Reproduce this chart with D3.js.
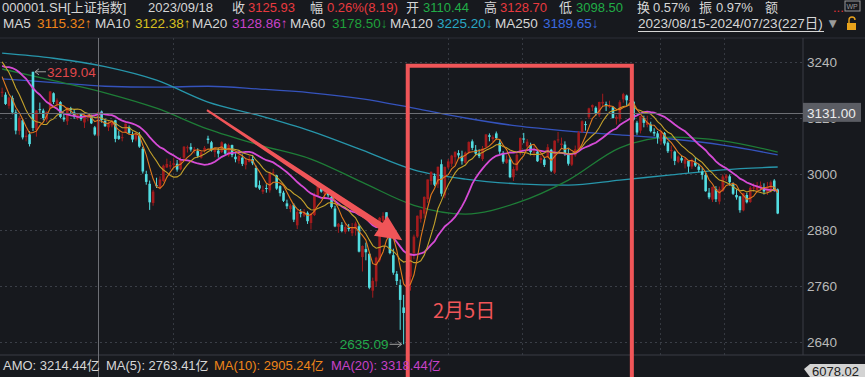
<!DOCTYPE html>
<html>
<head>
<meta charset="utf-8">
<script src="https://cdn.jsdelivr.net/npm/d3@7"></script>
<style>
  body { margin: 0; background: #17191e; }
  svg { display: block; font-family: "Liberation Sans", Arial, "Noto Sans CJK SC", sans-serif; }
</style>
</head>
<body>
<svg id="chart"></svg>
<script>
// 上证指数 daily candles, 2023/08/15 - 2024/07/23 (227 trading days)
var closes = [
  // 2023 Aug
  3176.18, 3150.13, 3163.74, 3131.95, 3092.98, 3120.33, 3078.40, 3082.24, 3064.07, 3098.64, 3135.89, 3137.14, 3119.88,
  // Sep
  3133.25, 3177.06, 3154.37, 3158.08, 3122.35, 3116.72, 3142.76, 3137.06, 3122.85, 3126.55, 3117.74, 3125.93, 3124.25, 3108.57, 3084.70, 3132.43, 3115.61, 3102.27, 3107.32, 3110.48,
  // Oct
  3075.24, 3075.18, 3078.96, 3107.90, 3088.10, 3073.81, 3083.50, 3058.71, 3005.39, 2983.06, 2939.29, 2962.24, 2974.11, 2988.30, 3017.78, 3021.55, 3018.77,
  // Nov
  3023.08, 3009.41, 3030.80, 3058.41, 3057.27, 3052.37, 3053.28, 3038.97, 3046.53, 3056.04, 3072.83, 3050.93, 3054.37, 3043.61, 3067.93, 3043.61, 3061.86, 3040.97, 3031.70, 3038.55, 3021.69, 3029.67,
  // Dec
  3031.64, 3022.91, 2972.30, 2968.93, 2966.21, 2969.56, 3003.25, 3003.39, 2968.76, 2958.99, 2942.56, 2930.80, 2932.39, 2902.11, 2918.72, 2914.78, 2918.81, 2898.87, 2914.61, 2954.70, 2974.93,
  // 2024 Jan
  2962.28, 2967.25, 2954.35, 2929.18, 2887.54, 2893.25, 2877.70, 2886.65, 2881.98, 2886.29, 2893.99, 2833.62, 2845.78, 2832.28, 2756.34, 2770.98, 2820.77, 2906.11, 2910.22, 2883.36, 2830.53, 2788.55,
  // Feb
  2770.74, 2730.15, 2702.19, 2789.49, 2829.70, 2865.90, 2910.54, 2922.73, 2950.96, 2988.36, 3004.88, 2977.02, 3015.48, 2957.85, 3015.17,
  // Mar
  3027.02, 3039.31, 3047.79, 3039.93, 3027.40, 3046.02, 3068.46, 3055.94, 3043.83, 3038.23, 3054.64, 3084.93, 3079.69, 3079.11, 3077.11, 3048.03, 3026.31, 3031.48, 2993.14, 3010.66, 3041.17,
  // Apr
  3077.38, 3074.96, 3069.30, 3047.05, 3048.54, 3027.34, 3034.25, 3019.47, 3057.38, 3007.07, 3071.38, 3074.22, 3065.26, 3044.60, 3021.98, 3044.82, 3052.90, 3088.64, 3113.04, 3104.82,
  // May
  3140.72, 3147.74, 3128.48, 3154.32, 3154.55, 3148.02, 3145.77, 3119.90, 3122.40, 3154.03, 3171.15, 3157.97, 3158.54, 3116.39, 3088.87, 3124.04, 3109.57, 3111.02, 3091.68, 3086.81,
  // Jun
  3078.49, 3091.20, 3065.40, 3048.79, 3051.28, 3028.05, 3037.47, 3028.92, 3032.63, 3015.89, 3030.25, 3018.05, 3008.86, 2998.14, 2963.10, 2950.00, 2972.53, 2945.85, 2967.40,
  // Jul
  2994.73, 2997.01, 2982.38, 2957.57, 2949.93, 2922.45, 2959.37, 2939.36, 2970.39, 2971.30, 2974.01, 2976.30, 2962.77, 2973.55, 2982.31, 2964.22, 2915.37
];

var opens = [
  3174, 3170, 3146, 3163, 3132, 3092, 3115, 3079, 3085, 3219.04, 3094, 3139, 3136,
  3117, 3140, 3173, 3150, 3154, 3121, 3113, 3141, 3132, 3119, 3128, 3110.44, 3122, 3125, 3100, 3082, 3134, 3114, 3100, 3104,
  3115, 3082, 3077, 3089, 3100, 3085, 3074, 3082, 3054, 3000, 2979, 2938, 2976, 2970, 2985, 3014, 3016,
  3019, 3022, 3010, 3035, 3056, 3058, 3050, 3049, 3035, 3050, 3076, 3068, 3047, 3050, 3047, 3064, 3040, 3062, 3037, 3028, 3035, 3019,
  3026, 3032, 3013, 2976, 2962, 2970, 2965, 3002, 2997, 2974, 2960, 2937, 2925, 2934, 2890, 2919, 2911, 2917, 2895, 2912, 2954,
  2972, 2957, 2965, 2951, 2926, 2887, 2891, 2876, 2885, 2873, 2882, 2888, 2822, 2839, 2829, 2750, 2770, 2815, 2899, 2918, 2875, 2826,
  2786, 2762, 2714, 2685, 2780, 2830, 2866, 2904, 2915, 2946, 2985, 2996, 2978, 3021, 2954,
  3014, 3022, 3036, 3045, 3039, 3024, 3046, 3070, 3052, 3044, 3032, 3058, 3083, 3075, 3087, 3067, 3045, 3024, 3031, 2993, 3008,
  3044, 3076, 3059, 3062, 3045, 3048, 3030, 3031, 3036, 3052, 3003, 3072, 3062, 3063, 3045, 3020, 3040, 3053, 3090, 3107,
  3122, 3143, 3142, 3126, 3151, 3150, 3145, 3143, 3118, 3118, 3160, 3168, 3157, 3155, 3110, 3093, 3120, 3105, 3106, 3090,
  3087, 3070, 3088, 3067, 3049, 3048, 3026, 3034, 3022, 3028, 3016, 3025, 3016, 3005, 2998, 2960, 2945, 2968, 2941,
  2963, 2991, 2995, 2978, 2955, 2952, 2922, 2955, 2940, 2969, 2966, 2972, 2972, 2961, 2968, 2986, 2967
];

var highs = [
  3185, 3175, 3166, 3168, 3138, 3125, 3118, 3095, 3092, 3219.04, 3137, 3153, 3140,
  3134, 3177, 3175, 3162, 3156, 3131, 3143, 3144, 3137, 3129, 3131, 3128.70, 3130, 3127, 3103, 3133, 3136, 3119, 3113, 3115,
  3116, 3092, 3087, 3108, 3104, 3091, 3090, 3090, 3058, 3007, 2986, 2966, 2992, 2995, 3020, 3033, 3028,
  3035, 3030, 3036, 3060, 3061, 3066, 3058, 3055, 3050, 3060, 3082, 3071, 3055, 3056, 3070, 3066, 3065, 3063, 3044, 3041, 3042, 3035,
  3040, 3041, 3018, 2986, 2975, 2978, 3005, 3011, 2998, 2976, 2964, 2945, 2936, 2937, 2925, 2925, 2925, 2920, 2917, 2960, 2976,
  2976, 2969, 2967, 2957, 2932, 2895, 2897, 2896, 2893, 2895, 2898, 2892, 2847, 2853, 2830, 2778, 2823, 2908, 2918, 2918, 2880, 2840,
  2792, 2774, 2741, 2793, 2830, 2870, 2911, 2924, 2952, 2988, 3005, 3001, 3016, 3031, 3016,
  3032, 3041, 3048, 3051, 3050, 3048, 3070, 3074, 3062, 3053, 3060, 3085, 3087, 3083, 3091, 3075, 3049, 3040, 3036, 3016, 3046,
  3078, 3088, 3075, 3067, 3060, 3051, 3040, 3036, 3064, 3054, 3072, 3090, 3078, 3070, 3054, 3045, 3061, 3092, 3115, 3113,
  3142, 3149, 3145, 3155, 3172, 3155, 3157, 3145, 3126, 3158, 3174, 3170, 3164, 3157, 3114, 3125, 3125, 3125, 3112, 3098,
  3092, 3093, 3090, 3070, 3061, 3050, 3040, 3039, 3036, 3030, 3033, 3036, 3022, 3013, 3002, 2970, 2973, 2974, 2973,
  2999, 3000, 2999, 2982, 2967, 2953, 2960, 2960, 2974, 2980, 2983, 2984, 2980, 2983, 2986, 2989, 2969
];

var lows = [
  3165, 3148, 3140, 3128, 3085, 3084, 3074, 3070, 3059, 3092, 3080, 3131, 3115,
  3111, 3140, 3150, 3140, 3120, 3112, 3105, 3130, 3118, 3116, 3114, 3098.50, 3113, 3107, 3082, 3078, 3110, 3101, 3092, 3100,
  3068, 3073, 3070, 3088, 3085, 3068, 3070, 3056, 3001, 2977, 2923, 2932, 2970, 2967, 2983, 3013, 3010,
  3015, 3005, 3008, 3031, 3046, 3048, 3044, 3035, 3033, 3046, 3065, 3048, 3036, 3035, 3045, 3041, 3037, 3036, 3025, 3022, 3017, 3010,
  3025, 3019, 2970, 2966, 2957, 2960, 2960, 2996, 2966, 2952, 2940, 2925, 2918, 2897, 2882, 2907, 2908, 2893, 2881, 2910, 2951,
  2960, 2951, 2950, 2926, 2886, 2874, 2875, 2872, 2877, 2867, 2868, 2832, 2791, 2815, 2753, 2735, 2759, 2811, 2893, 2879, 2828, 2784,
  2762, 2666, 2635.09, 2680, 2750, 2817, 2863, 2896, 2906, 2938, 2977, 2974, 2970, 2952, 2948,
  3011, 3015, 3020, 3034, 3020, 3022, 3043, 3051, 3040, 3034, 3028, 3057, 3070, 3068, 3074, 3042, 3022, 3022, 2991, 2985, 3006,
  3040, 3066, 3056, 3040, 3037, 3026, 3023, 3015, 3035, 3004, 3000, 3067, 3054, 3039, 3018, 3017, 3037, 3051, 3088, 3093,
  3118, 3135, 3125, 3122, 3146, 3135, 3141, 3119, 3106, 3112, 3153, 3146, 3142, 3113, 3084, 3087, 3100, 3100, 3089, 3081,
  3065, 3063, 3061, 3045, 3033, 3019, 3023, 3024, 3012, 3003, 3011, 3015, 3004, 2988, 2962, 2946, 2940, 2940, 2935,
  2962, 2985, 2975, 2955, 2945, 2917, 2920, 2937, 2938, 2962, 2960, 2963, 2956, 2955, 2960, 2962, 2914
];

// closes of the 19 sessions before the window, only used to seed MA5/10/20
var priorCloses = [3198.84, 3169.52, 3167.75, 3164.16, 3231.52, 3223.03, 3216.67, 3275.93, 3291.04,
  3290.95, 3261.69, 3280.46, 3288.08, 3268.83, 3260.62, 3244.49, 3254.56, 3189.25, 3178.43];

var longMaDays = [0, 15, 30, 45, 60, 75, 90, 105, 120, 135, 150, 165, 180, 195, 210, 226];
var ma60 = [3225, 3200, 3174, 3141, 3096, 3062, 3032, 2982, 2933, 2914, 2938, 2987, 3056, 3079, 3071, 3047];
var ma120 = [3259, 3248, 3230, 3201, 3154, 3125, 3092, 3051, 3009, 2989, 2979, 2976, 2987, 2998, 3009, 3015];
var ma250 = [3204, 3196, 3188, 3186, 3188, 3182, 3174, 3161, 3141, 3120, 3103, 3092, 3084, 3075, 3062, 3041];

var yTicks = [2640, 2760, 2880, 3000, 3120, 3240];
var gridDays = [49.8, 130, 151.5, 191.8, 210.4];

var svgWidth = 865;
var svgHeight = 377;
var axisX = 803;
var panelTop = 38;
var panelBottom = 355;

var red = "#e8393e", green = "#21ad47", txt = "#d6d6d6";
var upColor = "#a31b1d", downColor = "#52dde1";

var svg = d3.select("#chart")
  .attr("width", svgWidth)
  .attr("height", svgHeight);

svg.append("rect")
  .attr("width", svgWidth)
  .attr("height", svgHeight)
  .attr("fill", "#17191e");

var xScale = d3.scaleLinear()
  .domain([0, closes.length - 1])
  .range([2.1, 777.7]);

var yScale = d3.scaleLinear()
  .domain([2640, 3240])
  .range([342, 62]);

// panel frame lines
svg.append("line")
  .attr("x1", 0).attr("x2", svgWidth)
  .attr("y1", panelTop).attr("y2", panelTop)
  .attr("stroke", "#2c2f36");
svg.append("line")
  .attr("x1", 0).attr("x2", svgWidth)
  .attr("y1", panelBottom).attr("y2", panelBottom)
  .attr("stroke", "#3a3d45");
svg.append("line")
  .attr("x1", axisX).attr("x2", axisX)
  .attr("y1", panelTop).attr("y2", panelBottom)
  .attr("stroke", "#3a3d45");

// dotted grid
svg.append("g")
  .selectAll("line")
  .data(yTicks)
  .enter()
  .append("line")
  .attr("x1", 0).attr("x2", axisX)
  .attr("y1", d => Math.round(yScale(d)) + 0.5)
  .attr("y2", d => Math.round(yScale(d)) + 0.5)
  .attr("stroke", "#3b3f48")
  .attr("stroke-dasharray", "2,3");

svg.append("g")
  .selectAll("line")
  .data(gridDays)
  .enter()
  .append("line")
  .attr("x1", d => Math.round(xScale(d)) + 0.5)
  .attr("x2", d => Math.round(xScale(d)) + 0.5)
  .attr("y1", panelTop).attr("y2", panelBottom)
  .attr("stroke", "#353941")
  .attr("stroke-dasharray", "2,3");

// right axis
var rightAxis = d3.axisRight(yScale)
  .tickValues(yTicks)
  .tickFormat(d3.format("d"))
  .tickSize(0)
  .tickPadding(4);
var axisG = svg.append("g")
  .attr("transform", `translate(${axisX}, 0)`)
  .call(rightAxis);
axisG.select(".domain").remove();
axisG.selectAll("text")
  .attr("fill", "#b9b9b9")
  .style("font-size", "13.5px")
  .style("font-family", "'Liberation Sans', Arial, sans-serif");

var plot = svg.append("g");

// long MAs
var longLine = d3.line()
  .x(d => xScale(d[0]))
  .y(d => yScale(d[1]))
  .curve(d3.curveMonotoneX);

[[ma250, "#3553bd"], [ma120, "#2796ab"], [ma60, "#1e7d37"]].forEach(function(s) {
  plot.append("path")
    .attr("d", longLine(d3.zip(longMaDays, s[0])))
    .attr("fill", "none")
    .attr("stroke", s[1])
    .attr("stroke-width", 1.3);
});

// candles
var days = d3.range(closes.length);
var bodyW = 2.6;

var candle = plot.selectAll("g.candle")
  .data(days)
  .enter()
  .append("g")
  .attr("class", "candle");

candle.append("line")
  .attr("x1", i => xScale(i))
  .attr("x2", i => xScale(i))
  .attr("y1", i => yScale(highs[i]))
  .attr("y2", i => yScale(lows[i]))
  .attr("stroke", i => closes[i] >= opens[i] ? upColor : downColor)
  .attr("stroke-width", 1);

candle.append("rect")
  .attr("x", i => xScale(i) - bodyW / 2)
  .attr("y", i => yScale(Math.max(opens[i], closes[i])))
  .attr("width", bodyW)
  .attr("height", i => Math.max(1, Math.abs(yScale(opens[i]) - yScale(closes[i]))))
  .attr("fill", i => closes[i] >= opens[i] ? upColor : downColor);

// short MAs from the closes
var allCloses = priorCloses.concat(closes);
function movingAvg(n) {
  var off = priorCloses.length;
  return closes.map((c, i) => d3.mean(allCloses.slice(i + off - n + 1, i + off + 1)));
}

var shortLine = d3.line()
  .x((d, i) => xScale(i))
  .y(d => yScale(d));

[[20, "#d64bd6", 1.8], [10, "#c4a22b", 1.1], [5, "#e17a1e", 1.1]].forEach(function(s) {
  plot.append("path")
    .attr("d", shortLine(movingAvg(s[0])))
    .attr("fill", "none")
    .attr("stroke", s[1])
    .attr("stroke-width", s[2]);
});

// high / low markers
var hiDay = 9, loDay = 117;
var hx = xScale(hiDay), hy = yScale(highs[hiDay]);
plot.append("line")
  .attr("x1", hx + 2).attr("x2", hx + 13)
  .attr("y1", hy).attr("y2", hy)
  .attr("stroke", "#a0a0a0");
plot.append("path")
  .attr("d", `M${hx + 6},${hy - 3}L${hx + 2},${hy}L${hx + 6},${hy + 3}`)
  .attr("fill", "none").attr("stroke", "#a0a0a0");
plot.append("text")
  .attr("x", hx + 14).attr("y", hy + 5)
  .attr("fill", "#e0474b")
  .style("font-size", "13.5px")
  .text(highs[hiDay].toFixed(2));

var lx = xScale(loDay), ly = yScale(lows[loDay]);
plot.append("line")
  .attr("x1", lx - 14).attr("x2", lx - 2)
  .attr("y1", ly).attr("y2", ly)
  .attr("stroke", "#a0a0a0");
plot.append("path")
  .attr("d", `M${lx - 6},${ly - 3}L${lx - 2},${ly}L${lx - 6},${ly + 3}`)
  .attr("fill", "none").attr("stroke", "#a0a0a0");
plot.append("text")
  .attr("x", lx - 15).attr("y", ly + 5)
  .attr("text-anchor", "end")
  .attr("fill", "#22a94a")
  .style("font-size", "13.5px")
  .text(lows[loDay].toFixed(2));

// crosshair
var crossDay = 28, crossValue = 3131;
svg.append("line")
  .attr("x1", Math.round(xScale(crossDay)) + 0.5).attr("x2", Math.round(xScale(crossDay)) + 0.5)
  .attr("y1", panelTop).attr("y2", svgHeight)
  .attr("stroke", "#6d6f75");
svg.append("line")
  .attr("x1", 0).attr("x2", axisX)
  .attr("y1", Math.round(yScale(crossValue)) + 0.5).attr("y2", Math.round(yScale(crossValue)) + 0.5)
  .attr("stroke", "#6d6f75");
svg.append("rect")
  .attr("x", axisX).attr("y", yScale(crossValue) - 10)
  .attr("width", 58).attr("height", 19)
  .attr("fill", "#5b5d64");
svg.append("text")
  .attr("x", axisX + 4).attr("y", yScale(crossValue) + 5)
  .attr("fill", "#ececec")
  .style("font-size", "13.5px")
  .text(crossValue.toFixed(2));

// red annotation: arrow and box
var arrowFrom = [59.7, 3137], arrowTo = [116.6, 2858];
var ax0 = xScale(arrowFrom[0]), ay0 = yScale(arrowFrom[1]);
var ax1 = xScale(arrowTo[0]), ay1 = yScale(arrowTo[1]);
var len = Math.hypot(ax1 - ax0, ay1 - ay0);
var ux = (ax1 - ax0) / len, uy = (ay1 - ay0) / len;
var px = -uy, py = ux;
var headLen = 26, headW = 12, tailW = 1, neckW = 3.5;
var bx = ax1 - ux * headLen, by = ay1 - uy * headLen;
var arrowPts = [
  [ax0 + px * tailW, ay0 + py * tailW],
  [bx + px * neckW, by + py * neckW],
  [bx + px * headW, by + py * headW],
  [ax1, ay1],
  [bx - px * headW, by - py * headW],
  [bx - px * neckW, by - py * neckW],
  [ax0 - px * tailW, ay0 - py * tailW]
];
svg.append("path")
  .attr("d", "M" + arrowPts.map(p => p.join(",")).join("L") + "Z")
  .attr("fill", "#f05558");

var boxDays = [118.2, 183.5], boxTopValue = 3232;
svg.append("rect")
  .attr("x", xScale(boxDays[0]))
  .attr("y", yScale(boxTopValue))
  .attr("width", xScale(boxDays[1]) - xScale(boxDays[0]))
  .attr("height", svgHeight + 10 - yScale(boxTopValue))
  .attr("fill", "none")
  .attr("stroke", "#f05558")
  .attr("stroke-width", 4);

svg.append("text")
  .attr("x", 433).attr("y", 318)
  .attr("fill", "#f05558")
  .style("font-family", "'Noto Sans CJK SC', sans-serif")
  .style("font-size", "20px")
  .text("2月5日");

// header rows
var header1 = [
  ["000001.SH[上证指数]", 2, txt], ["2023/09/18", 148, txt],
  ["收", 232, txt], ["3125.93", 248, red],
  ["幅", 310, txt], ["0.26%(8.19)", 327, red],
  ["开", 406, txt], ["3110.44", 423, green],
  ["高", 484, txt], ["3128.70", 500, red],
  ["低", 559, txt], ["3098.50", 576, green],
  ["换", 637, txt], ["0.57%", 653, txt],
  ["振", 699, txt], ["0.97%", 716, txt],
  ["额", 765, txt], ["...", 833, "#e0333a"]
];
var header2 = [
  ["MA5", 3, txt], ["3115.32↑", 37, "#ef8519"],
  ["MA10", 95, txt], ["3122.38↑", 135, "#d8c020"],
  ["MA20", 192, txt], ["3128.86↑", 232, "#c842c8"],
  ["MA60", 290, txt], ["3178.50↓", 332, "#1fa03b"],
  ["MA120", 390, txt], ["3225.20↓", 437, "#2aa8c4"],
  ["MA250", 495, txt], ["3189.65↓", 543, "#3b6ae0"],
  ["2023/08/15-2024/07/23(227日)", 638, txt], ["▼", 826, "#9a9a9a"]
];
var footer = [
  ["AMO: 3214.44亿", 3, txt], ["MA(5): 2763.41亿", 106, txt],
  ["MA(10): 2905.24亿", 214, "#ef8519"], ["MA(20): 3318.44亿", 331, "#c842c8"]
];

function drawRow(items, y, size) {
  svg.append("g")
    .selectAll("text")
    .data(items)
    .enter()
    .append("text")
    .attr("x", d => d[1])
    .attr("y", y)
    .attr("fill", d => d[2])
    .style("font-size", size)
    .text(d => d[0]);
}
drawRow(header1, 12, "13px");
drawRow(header2, 28, "13.5px");
drawRow(footer, 370, "13px");

svg.append("line")
  .attr("x1", 638).attr("x2", 824)
  .attr("y1", 31.5).attr("y2", 31.5)
  .attr("stroke", txt);

// lock + monitor icons
svg.append("rect").attr("x", 847).attr("y", 23).attr("width", 9).attr("height", 7)
  .attr("fill", "#e8a31c");
svg.append("path").attr("d", "M849,23v-3a3,3 0 0 1 6,0")
  .attr("fill", "none").attr("stroke", "#e8a31c").attr("stroke-width", 1.4);
svg.append("rect").attr("x", 845).attr("y", 1).attr("width", 15).attr("height", 10)
  .attr("fill", "none").attr("stroke", "#9a9a9a");
svg.append("text").attr("x", 846.5).attr("y", 9).attr("fill", "#9a9a9a")
  .style("font-size", "7px").text("WP");

// bottom-right value tag
svg.append("path")
  .attr("d", "M804,369L810,364H865V377H810Z")
  .attr("fill", "#d3d3d3");
svg.append("text")
  .attr("x", 812).attr("y", 376)
  .attr("fill", "#202020")
  .style("font-size", "13px")
  .text("6078.02");
</script>
</body>
</html>
